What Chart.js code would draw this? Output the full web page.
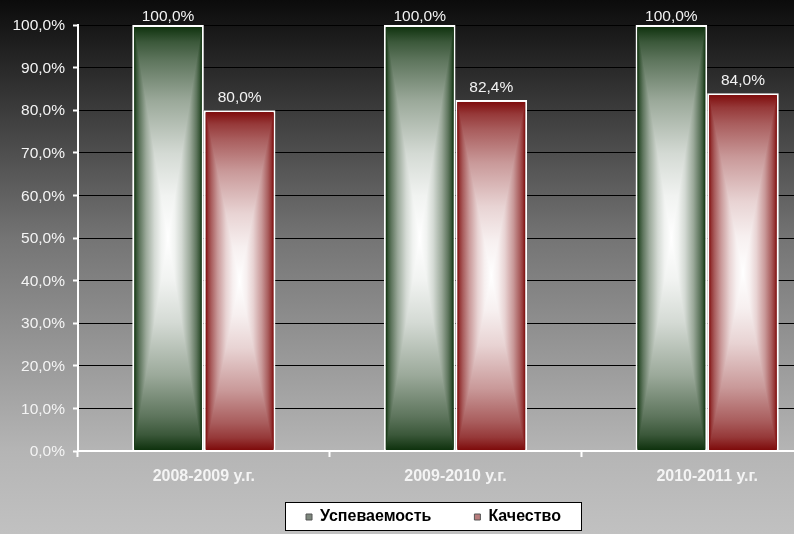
<!DOCTYPE html>
<html>
<head>
<meta charset="utf-8">
<script src="https://cdn.jsdelivr.net/npm/chart.js@4.4.0/dist/chart.umd.min.js"></script>
<style>
  html, body { margin: 0; padding: 0; overflow: hidden; background: #c0c0c0; }
  #wrap { width: 867px; height: 534px; }
</style>
</head>
<body>
<div id="wrap"><canvas id="grafico" width="867" height="534"></canvas></div>
<script>
// dados do gráfico
const categorias = ['2008-2009 у.г.', '2009-2010 у.г.', '2010-2011 у.г.'];
const uspevaemost = [100.0, 100.0, 100.0];
const kachestvo = [80.0, 82.4, 84.0];
const nomesSeries = ['Успеваемость', 'Качество'];

const fonte = 'Arial, "Liberation Sans", sans-serif';
const coresBorda = [[16, 51, 15], [127, 13, 13]];
const coresLegenda = ['#7d877d', '#b87c7c'];
// curva do degradê (posição -> quanto de branco)
const curva = [[0, 0], [0.07, 0.18], [0.16, 0.33], [0.35, 0.58], [0.6, 0.82], [0.8, 0.94], [1, 1]];

function formatar(v) {
    return v.toFixed(1).replace('.', ',') + '%';
}

function mistura(c, k) {
    return 'rgb(' + c.map(v => Math.round(v + (255 - v) * k)).join(',') + ')';
}

// fundo em degradê
const fundo = {
    id: 'fundo',
    afterLayout(chart) {
        // legenda um pouco para a direita, como no original
        const lg = chart.legend;
        lg.left += 17; lg.right += 17;
        lg.top += 1; lg.bottom += 1;
    },
    beforeDraw(chart) {
        const ctx = chart.ctx;
        const g = ctx.createLinearGradient(0, 0, 0, chart.height);
        g.addColorStop(0, '#0b0b0b');
        g.addColorStop(0.45, '#757575');
        g.addColorStop(0.846, '#b5b5b5');
        g.addColorStop(1, '#c1c1c1');
        ctx.save();
        ctx.fillStyle = g;
        ctx.fillRect(0, 0, chart.width, chart.height);

        // caixa da legenda
        const lg = chart.legend;
        if (lg && lg.legendHitBoxes && lg.legendHitBoxes.length) {
            const hb = lg.legendHitBoxes;
            const esq = Math.round(Math.min(...hb.map(h => h.left)) - 21);
            const dir = Math.round(Math.max(...hb.map(h => h.left + h.width)) + 20);
            const topo = Math.round(hb[0].top - 7);
            const alt = Math.round(hb[0].height + 12);
            ctx.fillStyle = '#ffffff';
            ctx.fillRect(esq + 0.5, topo + 0.5, dir - esq, alt);
            ctx.strokeStyle = '#000000';
            ctx.lineWidth = 1;
            ctx.strokeRect(esq + 0.5, topo + 0.5, dir - esq, alt);
        }
        ctx.restore();
    }
};

// degradê retangular das barras + rótulos
const barras = {
    id: 'barras',
    afterDatasetsDraw(chart) {
        const ctx = chart.ctx;
        ctx.save();
        chart.data.datasets.forEach((ds, di) => {
            const meta = chart.getDatasetMeta(di);
            const cor = coresBorda[di];
            meta.data.forEach(bar => {
                const p = bar.getProps(['x', 'y', 'base', 'width'], true);
                const l = p.x - p.width / 2 + 2, r = p.x + p.width / 2 - 2;
                const t = p.y + 2, b = p.base - 1;
                const cx = (l + r) / 2, cy = (t + b) / 2;

                // vertical: cima -> centro -> baixo
                const gv = ctx.createLinearGradient(0, t, 0, b);
                curva.forEach(([pos, k]) => {
                    gv.addColorStop(pos / 2, mistura(cor, k));
                    gv.addColorStop(1 - pos / 2, mistura(cor, k));
                });
                ctx.fillStyle = gv;
                ctx.fillRect(l, t, r - l, b - t);

                // laterais: triângulos com degradê horizontal
                const lado = (xb) => {
                    const gh = ctx.createLinearGradient(xb, 0, cx, 0);
                    curva.forEach(([pos, k]) => gh.addColorStop(pos, mistura(cor, k)));
                    ctx.beginPath();
                    ctx.moveTo(xb, t);
                    ctx.lineTo(xb, b);
                    ctx.lineTo(cx, cy);
                    ctx.closePath();
                    ctx.fillStyle = gh;
                    ctx.fill();
                };
                lado(l);
                lado(r);
            });
        });
        ctx.fillStyle = '#f2f2f2';
        ctx.font = '15.5px ' + fonte;
        ctx.textAlign = 'center';
        ctx.textBaseline = 'alphabetic';
        const limite = chart.chartArea.top - 4;
        chart.data.datasets.forEach((ds, di) => {
            chart.getDatasetMeta(di).data.forEach((bar, i) => {
                ctx.fillText(formatar(ds.data[i]), bar.x, Math.max(bar.y - 8, limite));
            });
        });
        ctx.restore();
    }
};

new Chart(document.getElementById('grafico').getContext('2d'), {
    type: 'bar',
    data: {
        labels: categorias,
        datasets: [
            {
                label: nomesSeries[0],
                data: uspevaemost,
                backgroundColor: 'rgb(16,51,15)',
                borderColor: '#ffffff',
                borderWidth: 2,
                borderSkipped: 'bottom',
                barPercentage: 1,
                categoryPercentage: 0.569
            },
            {
                label: nomesSeries[1],
                data: kachestvo,
                backgroundColor: 'rgb(127,13,13)',
                borderColor: '#ffffff',
                borderWidth: 2,
                borderSkipped: 'bottom',
                barPercentage: 1,
                categoryPercentage: 0.569
            }
        ]
    },
    plugins: [fundo, barras],
    options: {
        responsive: false,
        animation: false,
        layout: { padding: { top: 25, right: 34, left: 0, bottom: 0 } },
        plugins: {
            tooltip: { enabled: false },
            legend: {
                position: 'bottom',
                labels: {
                    color: '#000000',
                    font: { family: fonte, size: 16, weight: 'bold' },
                    boxWidth: 6,
                    boxHeight: 6,
                    padding: 43,
                    generateLabels(chart) {
                        return chart.data.datasets.map((ds, i) => ({
                            text: ds.label,
                            fillStyle: coresLegenda[i],
                            strokeStyle: '#555555',
                            lineWidth: 1,
                            datasetIndex: i,
                            fontColor: '#000000'
                        }));
                    }
                }
            }
        },
        scales: {
            x: {
                afterFit(s) { s.height = 14; },
                grid: {
                    offset: true,
                    drawOnChartArea: false,
                    tickLength: 6,
                    tickColor: '#ffffff',
                    tickWidth: 2
                },
                border: { color: '#ffffff', width: 2, z: 1 },
                ticks: {
                    color: '#f4f4f4',
                    mirror: true,
                    padding: -35,
                    font: { family: fonte, size: 16, weight: 'bold' }
                }
            },
            y: {
                min: 0,
                max: 100,
                afterFit(s) { s.width = 78; },
                grid: {
                    color: '#000000',
                    lineWidth: 1,
                    tickLength: 5,
                    tickColor: '#ffffff',
                    tickWidth: 2
                },
                border: { color: '#ffffff', width: 2 },
                ticks: {
                    stepSize: 10,
                    color: '#f4f4f4',
                    padding: 8,
                    labelOffset: 1,
                    font: { family: fonte, size: 15.5 },
                    callback: v => formatar(v)
                }
            }
        }
    }
});
</script>
</body>
</html>
